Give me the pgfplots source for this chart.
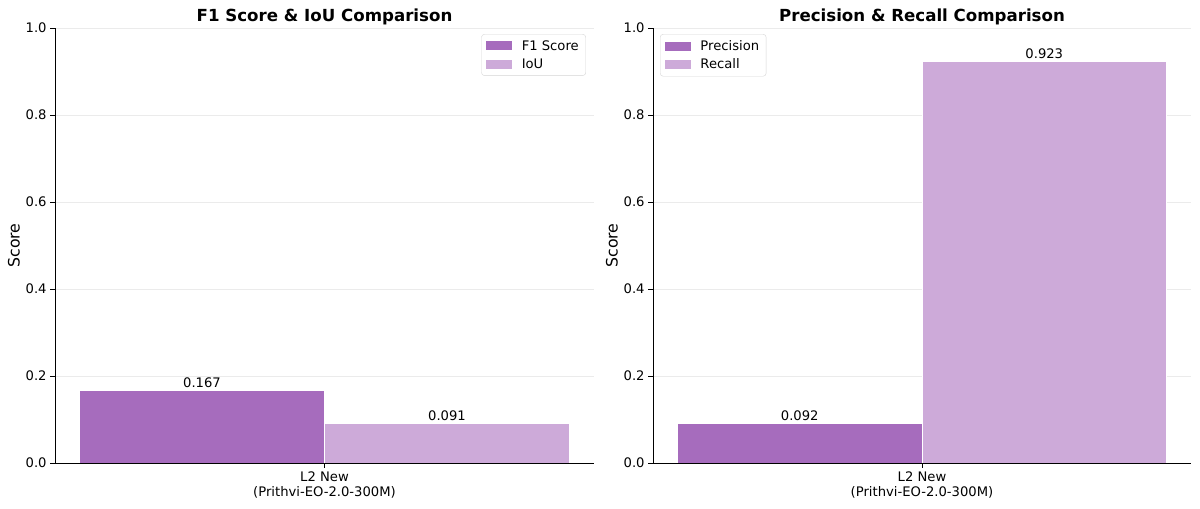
\documentclass[border=0pt]{standalone}
\usepackage{fontspec}
\setmainfont{DejaVu Sans}
\usepackage{pgfplots}
\pgfplotsset{compat=1.18}

\definecolor{pdark}{RGB}{166,108,189}
\definecolor{plight}{RGB}{205,170,217}
\definecolor{gridc}{RGB}{235,235,235}

\pgfplotsset{
  scorestyle/.style={
    scale only axis, anchor=south west,
    height=435bp,
    xmin=-0.385, xmax=0.385, ymin=0, ymax=1,
    axis x line*=bottom, axis y line*=left,
    axis line style={-, line width=0.8bp},
    tick align=outside, major tick length=4.9bp,
    tick style={black, line width=0.8bp},
    xtick={0}, xticklabels={{L2 New\\(Prithvi-EO-2.0-300M)}},
    xticklabel style={align=center, font=\fontsize{13.2}{15.5}\selectfont},
    ytick={0,0.2,0.4,0.6,0.8,1.0},
    yticklabel style={font=\fontsize{13.2}{15.5}\selectfont, /pgf/number format/fixed, /pgf/number format/fixed zerofill, /pgf/number format/precision=1},
    /pgf/number format/assume math mode=true,
    ymajorgrids, grid style={gridc, line width=0.8bp},
    ylabel={Score}, ylabel style={font=\fontsize{15.8}{18}\selectfont, yshift=-1bp},
    title style={font=\fontsize{16.7}{20}\selectfont\bfseries, yshift=-6bp},
    ybar, bar width=0.35,
    legend style={font=\fontsize{13.2}{15.5}\selectfont, draw=gridc!80!gray, rounded corners=3bp, inner xsep=5bp, inner ysep=4bp, row sep=3bp},
    legend cell align=left,
    legend image code/.code={\fill[##1, draw=none, sharp corners] (0bp,-4.5bp) rectangle (26bp,4.5bp); \path (33bp,0bp);},
    nodes near coords,
    every node near coord/.append style={font=\fontsize{13.2}{15.5}\selectfont, /pgf/number format/fixed, /pgf/number format/fixed zerofill, /pgf/number format/precision=3, /pgf/number format/assume math mode=true, yshift=-1bp},
  }
}

\begin{document}
\begin{tikzpicture}
\useasboundingbox (0,0) rectangle (1200bp,509bp);
\begin{axis}[scorestyle, at={(55bp,46bp)}, width=539bp,
  title={F1 Score \& IoU Comparison},
  legend style={at={(0.985,0.986)}, anchor=north east}]
\addplot[fill=pdark, draw=white, line width=0.6bp, bar shift=-0.175] coordinates {(0,0.167)};
\addlegendentry{F1 Score}
\addplot[fill=plight, draw=white, line width=0.6bp, bar shift=0.175] coordinates {(0,0.091)};
\addlegendentry{IoU}
\end{axis}
\begin{axis}[scorestyle, at={(653bp,46bp)}, width=538bp,
  title={Precision \& Recall Comparison},
  legend style={at={(0.013,0.986)}, anchor=north west}]
\addplot[fill=pdark, draw=white, line width=0.6bp, bar shift=-0.175] coordinates {(0,0.092)};
\addlegendentry{Precision}
\addplot[fill=plight, draw=white, line width=0.6bp, bar shift=0.175] coordinates {(0,0.923)};
\addlegendentry{Recall}
\end{axis}
\end{tikzpicture}
\end{document}
